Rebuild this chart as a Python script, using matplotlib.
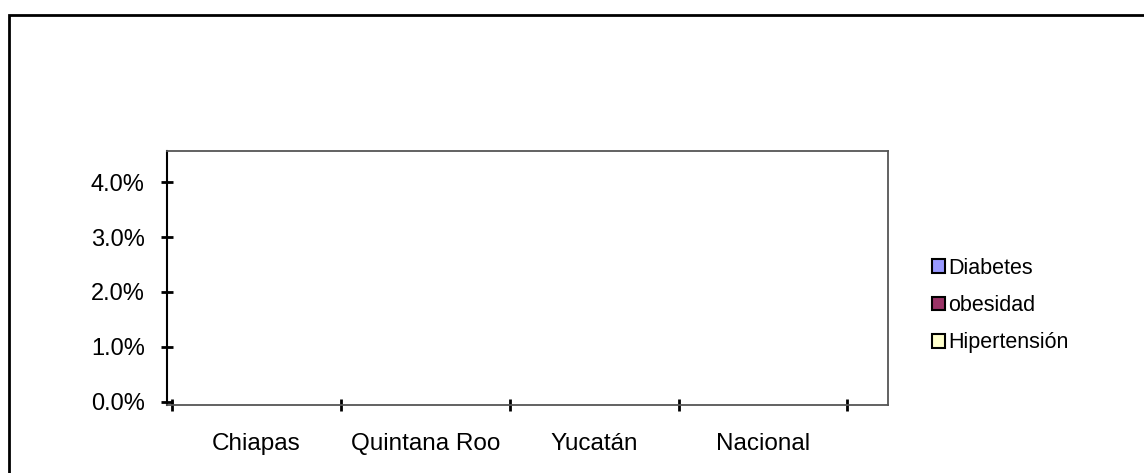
import numpy as np
import matplotlib
matplotlib.use("Agg")
from matplotlib import pyplot as plt
from matplotlib.patches import Patch, Rectangle
from matplotlib.ticker import FuncFormatter

plt.rcParams['font.family'] = ['Liberation Sans', 'DejaVu Sans']

# prevalence by state (fraction), nothing reported
estados = ["Chiapas", "Quintana Roo", "Yucatán", "Nacional"]
diabetes = [0.0, 0.0, 0.0, 0.0]
obesidad = [0.0, 0.0, 0.0, 0.0]
hipertension = [0.0, 0.0, 0.0, 0.0]
series_names = ["Diabetes", "obesidad", "Hipertensión"]
series_colors = ["#9999FF", "#993366", "#FFFFCC"]

fig = plt.figure(figsize=(11.44, 4.73), dpi=100)

# outer chart frame, runs off the right and bottom edges
W, H = 1144.0, 473.0
fig.patches.append(Rectangle((9 / W, -0.1), 1.2, 1 + 0.1 - 15 / H,
                             transform=fig.transFigure, fill=False,
                             edgecolor="black", linewidth=2.0))

ax = fig.add_axes([167 / W, (H - 405) / H, (888 - 167) / W, (405 - 151) / H])

x = np.arange(len(estados))
bw = 0.2
for i, (vals, col) in enumerate(zip([diabetes, obesidad, hipertension], series_colors)):
    # zero-height bars, so no outline
    ax.bar(x + (i - 1) * bw, vals, bw, color=col, linewidth=0)

ax.set_xlim(-0.53, 3.74)
ax.set_ylim(-0.00055, 0.04564)

ax.set_yticks([0.0, 0.01, 0.02, 0.03, 0.04])
ax.yaxis.set_major_formatter(FuncFormatter(lambda v, p: f"{v*100:.1f}%"))
ax.tick_params(axis="y", direction="inout", length=8, width=2, pad=12,
               labelsize=17, colors="black")

ax.set_xticks(np.arange(-0.5, len(estados), 1.0))
ax.set_xticklabels([])
ax.set_xticks(x, minor=True)
ax.set_xticklabels(estados, minor=True)
ax.tick_params(axis="x", which="major", direction="inout", length=8, width=2)
ax.tick_params(axis="x", which="minor", length=0, pad=20.5, labelsize=17.5)

for s in ["top", "right", "bottom"]:
    ax.spines[s].set_color("#555555")
    ax.spines[s].set_linewidth(1.3)
ax.spines["left"].set_color("black")
ax.spines["left"].set_linewidth(1.5)

handles = [Patch(facecolor=c, edgecolor="black", linewidth=1.5, label=n)
           for n, c in zip(series_names, series_colors)]
fig.legend(handles=handles, loc="upper left", bbox_to_anchor=(921 / W, 1 - 247 / H),
           frameon=False, fontsize=15.5, handlelength=0.6, handleheight=0.6,
           handletextpad=0.15, labelspacing=0.76, borderpad=0)

fig.savefig("out.png", dpi=100)
